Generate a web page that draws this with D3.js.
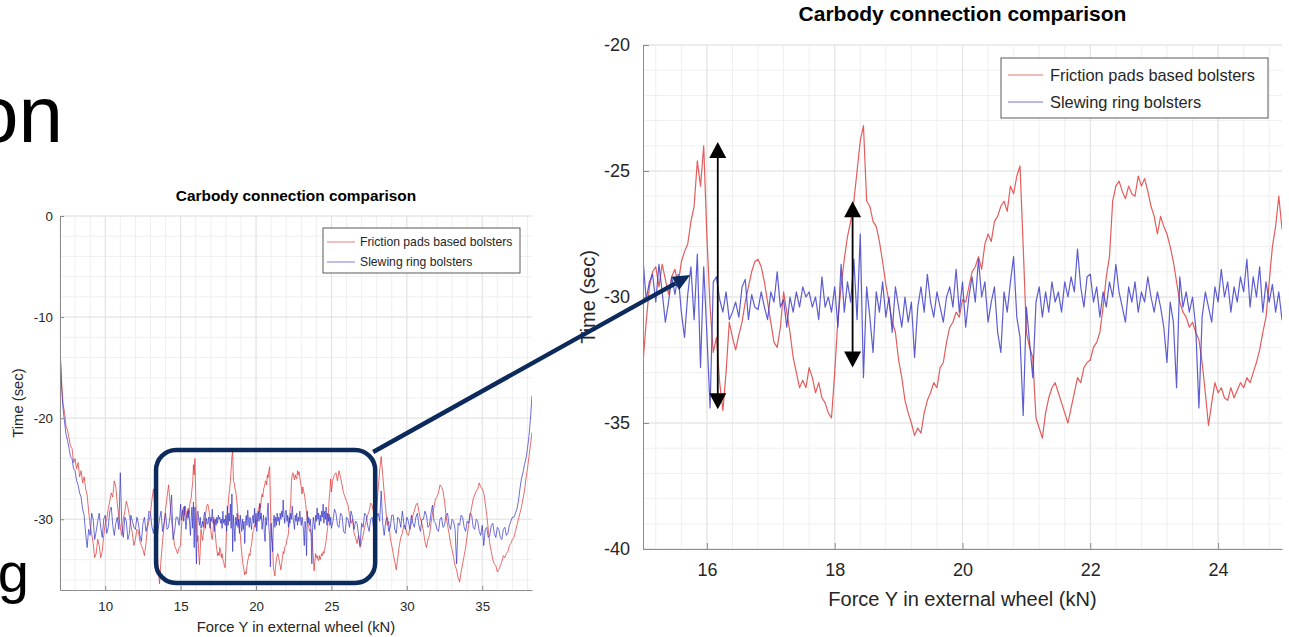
<!DOCTYPE html>
<meta charset="utf-8">

<!-- Load d3.js -->
<script src="https://d3js.org/d3.v7.min.js"></script>

<style>
  body { margin: 0; background: #fff; }
</style>

<div id="slide"></div>

<script>

// ---- data ----------------------------------------------------------------
// force axis is sampled in three pieces: coarser outside the zoomed window, fine inside it
var lowStart = 7.0,   lowStep = 0.1    // 7.0 .. 14.9
var zoomStart = 15.0, zoomStep = 0.05  // 15.00 .. 25.00
var highStart = 25.1, highStep = 0.1   // 25.1 .. 38.3

var seriesNames = ["Friction pads based bolsters", "Slewing ring bolsters"]

var redLow = [
  -13.0, -16.2, -18.6, -19.4, -20.8, -21.2, -22.0, -22.8, -23.0, -24.4,
  -24.0, -25.0, -24.4, -25.8, -25.2, -26.4, -25.8, -27.0, -27.6, -29.2,
  -30.6, -31.4, -32.4, -33.8, -33.4, -32.0, -32.6, -33.8, -33.2, -31.6,
  -30.4, -30.0, -29.0, -28.2, -27.4, -27.8, -26.2, -26.8, -28.4, -29.8,
  -30.8, -31.6, -30.0, -29.2, -28.2, -28.8, -29.6, -30.6, -31.4, -32.6,
  -32.0, -31.0, -31.2, -32.2, -32.6, -33.0, -33.6, -32.4, -30.8, -30.2,
  -29.4, -28.0, -27.0, -29.2, -31.8, -34.6, -36.4, -34.0, -32.2, -30.6,
  -29.0, -27.8, -26.6, -28.4, -30.2, -31.4, -32.6, -33.0, -33.4, -32.8]

var redZoom = [
  -32.6, -31.0, -29.6, -29.0, -28.8, -29.6, -28.7, -29.3, -29.9, -29.2,
  -28.9, -29.5, -28.6, -28.2, -27.9, -27.0, -26.4, -24.6, -25.6, -24.0,
  -27.6, -30.4, -32.2, -31.6, -33.4, -34.5, -33.0, -31.0, -31.6, -32.1,
  -31.5, -31.0, -30.2, -29.6, -29.0, -28.6, -28.5, -28.8, -29.4, -30.2,
  -31.0, -31.8, -32.0, -31.2, -29.8, -30.6, -31.4, -32.4, -33.0, -33.6,
  -33.3, -33.6, -32.8, -33.2, -33.8, -33.4, -34.0, -34.2, -34.6, -34.8,
  -33.0, -30.9, -29.6, -28.5, -27.6, -27.0, -26.2, -25.0, -23.8, -23.2,
  -26.2, -26.4, -27.0, -27.2, -27.8, -28.6, -29.5, -30.2, -31.0, -31.4,
  -32.5, -33.2, -34.1, -34.6, -35.0, -35.5, -35.2, -35.4, -34.6, -34.1,
  -33.8, -33.4, -33.6, -32.8, -32.6, -31.8, -31.2, -31.0, -30.6, -30.8,
  -30.1, -30.2, -29.6, -29.0, -28.8, -28.4, -28.9, -27.9, -27.5, -27.8,
  -27.0, -26.8, -26.4, -26.2, -26.6, -25.6, -25.9, -25.2, -24.8, -28.0,
  -31.4, -32.0, -32.4, -34.8, -35.2, -35.6, -34.6, -34.0, -33.6, -33.4,
  -33.8, -34.2, -34.6, -35.0, -34.4, -33.8, -33.2, -33.4, -32.8, -32.6,
  -32.5, -32.0, -31.8, -31.4, -30.4, -29.2, -28.4, -26.2, -25.6, -25.4,
  -25.8, -26.1, -25.6, -25.9, -26.0, -25.2, -25.6, -25.3, -25.8, -26.4,
  -26.8, -27.5, -26.8, -27.2, -27.5, -28.0, -28.6, -29.4, -30.2, -30.6,
  -30.8, -31.2, -31.0, -31.4, -31.7, -32.6, -33.8, -35.1, -34.2, -33.4,
  -33.8, -33.6, -34.0, -34.1, -33.6, -34.0, -33.7, -33.4, -33.6, -33.2,
  -33.4, -33.0, -32.6, -32.1, -31.4, -30.8, -29.4, -28.0, -27.2, -26.0,
  -27.3]

var redHigh = [
  -26.0, -25.6, -25.4, -26.2, -25.2, -25.8, -26.6, -27.4, -27.8, -28.2,
  -28.6, -29.6, -30.4, -30.0, -31.4, -31.8, -32.4, -31.6, -32.8, -32.2,
  -31.6, -30.8, -30.2, -29.6, -29.2, -28.4, -28.6, -29.4, -29.8, -28.8,
  -27.0, -25.2, -23.8, -25.6, -27.4, -29.0, -30.6, -30.2, -31.8, -32.6,
  -33.4, -34.2, -35.0, -33.8, -32.6, -31.8, -31.4, -30.6, -30.8, -31.4,
  -31.6, -31.0, -30.4, -29.6, -29.2, -28.6, -28.4, -29.2, -30.0, -30.4,
  -31.2, -32.2, -32.8, -32.0, -31.6, -30.4, -29.4, -28.8, -28.0, -27.8,
  -27.4, -26.6, -26.8, -27.2, -28.2, -29.6, -30.6, -31.4, -32.4, -33.0,
  -33.8, -34.6, -35.0, -35.8, -36.2, -35.2, -34.4, -33.6, -32.8, -31.6,
  -30.6, -29.6, -28.8, -28.0, -27.6, -27.2, -27.0, -26.4, -26.8, -27.0,
  -27.4, -28.4, -29.6, -31.0, -32.4, -33.2, -34.0, -34.4, -34.6, -35.2,
  -35.0, -34.6, -34.2, -33.6, -33.8, -33.4, -33.2, -32.6, -32.4, -32.0,
  -31.8, -31.2, -30.6, -30.0, -29.4, -28.8, -28.0, -27.2, -26.0, -25.0,
  -23.8, -22.6, -21.4]

var blueLow = [
  -13.0, -16.8, -19.0, -20.4, -21.6, -22.2, -23.0, -23.8, -24.0, -25.0,
  -25.2, -26.2, -26.6, -27.4, -27.8, -29.0, -29.6, -31.4, -32.8, -31.0,
  -31.6, -29.4, -30.0, -32.0, -31.2, -30.2, -29.4, -30.8, -31.8, -30.0,
  -29.6, -31.4, -30.8, -29.2, -28.8, -30.6, -31.6, -30.4, -29.8, -31.0,
  -25.4, -30.6, -31.8, -29.8, -30.2, -32.0, -31.4, -29.6, -30.2, -30.8,
  -31.0, -29.8, -30.4, -31.6, -32.2, -30.4, -29.8, -31.2, -30.6, -29.2,
  -29.4, -30.8, -31.4, -30.0, -32.6, -31.0, -30.0, -29.2, -31.2, -30.4,
  -29.4, -31.0, -30.8, -29.6, -27.6, -32.0, -31.2, -29.8, -29.8, -30.6]

var blueZoom = [
  -28.5, -30.1, -29.4, -29.1, -30.2, -28.7, -29.8, -31.0, -30.2, -29.2,
  -29.9, -29.1, -30.6, -31.6, -29.9, -28.8, -30.9, -28.3, -32.8, -28.8,
  -31.5, -34.4, -29.4, -29.2, -30.1, -30.6, -29.8, -30.9, -30.6, -30.2,
  -30.8, -29.6, -29.3, -30.9, -29.9, -30.4, -30.5, -29.8, -30.4, -30.9,
  -29.8, -30.2, -29.0, -30.4, -30.1, -31.2, -30.0, -30.6, -29.8, -30.4,
  -29.6, -30.0, -29.8, -30.4, -30.0, -30.9, -29.2, -30.4, -30.0, -30.6,
  -29.6, -31.2, -28.7, -30.6, -29.4, -30.2, -28.5, -30.9, -27.5, -33.2,
  -29.6, -30.8, -32.2, -29.8, -30.6, -29.4, -30.8, -30.0, -31.4, -29.6,
  -30.4, -31.2, -30.0, -31.0, -30.2, -32.4, -30.4, -29.6, -30.6, -29.1,
  -30.2, -30.8, -29.8, -30.4, -31.0, -30.0, -29.6, -30.4, -28.9, -30.6,
  -29.4, -31.2, -30.0, -29.2, -30.2, -28.5, -30.0, -29.4, -31.0, -30.2,
  -29.6, -31.4, -32.2, -29.8, -30.6, -29.4, -28.4, -30.8, -31.6, -34.7,
  -30.4, -31.8, -33.2, -30.2, -29.6, -30.8, -29.8, -30.6, -29.4, -30.2,
  -29.8, -30.6, -29.4, -30.0, -29.2, -29.8, -28.1, -29.6, -30.4, -29.2,
  -29.1, -30.2, -29.6, -30.8, -29.8, -30.4, -29.4, -30.0, -28.7, -29.8,
  -30.4, -31.0, -29.6, -30.2, -29.4, -30.6, -29.8, -30.2, -29.2, -30.0,
  -30.6, -29.8, -30.4, -31.2, -32.6, -30.2, -31.0, -33.6, -29.2, -30.4,
  -29.8, -30.6, -30.0, -31.2, -34.4, -30.8, -29.8, -30.4, -31.0, -29.6,
  -30.2, -28.9, -30.0, -29.4, -30.6, -29.6, -30.2, -29.2, -29.8, -28.5,
  -30.4, -29.2, -30.0, -28.8, -30.6, -29.4, -30.2, -29.5, -30.6, -29.8,
  -30.9]

var blueHigh = [
  -30.2, -29.0, -29.4, -30.6, -30.8, -29.4, -29.6, -31.2, -31.4, -29.8,
  -30.0, -30.8, -29.2, -29.8, -31.0, -30.2, -30.4, -31.6, -32.6, -30.4,
  -30.8, -29.4, -29.6, -30.6, -31.2, -30.0, -29.8, -31.0, -30.6, -29.8,
  -29.4, -30.2, -27.2, -30.4, -31.6, -30.2, -29.8, -31.2, -30.8, -29.6,
  -29.6, -31.0, -31.4, -29.8, -30.0, -30.8, -29.2, -30.4, -31.0, -29.8,
  -30.2, -31.0, -29.6, -30.4, -30.8, -29.8, -29.4, -30.6, -31.2, -30.0,
  -30.0, -29.2, -29.6, -30.8, -30.6, -29.4, -28.6, -30.2, -30.4, -31.0,
  -31.2, -30.0, -29.8, -30.8, -30.6, -29.6, -29.4, -30.6, -31.0, -30.0,
  -30.2, -31.0, -34.4, -30.4, -30.6, -29.6, -29.8, -30.8, -31.2, -30.2,
  -30.4, -29.4, -29.6, -30.8, -31.0, -30.0, -30.2, -31.2, -31.6, -30.6,
  -32.6, -31.0, -30.8, -31.8, -31.6, -30.6, -30.4, -31.4, -31.8, -30.8,
  -31.0, -31.8, -32.0, -31.0, -30.8, -31.6, -31.4, -30.6, -30.2, -29.8,
  -29.8, -29.4, -29.0, -28.2, -27.0, -26.0, -25.4, -24.6, -24.0, -23.0,
  -21.8, -20.0, -17.8]

// tick labels
var leftXTicks = [10, 15, 20, 25, 30, 35]
var leftYTicks = [0, -10, -20, -30]
var rightXTicks = [16, 18, 20, 22, 24]
var rightYTicks = [-20, -25, -30, -35, -40]

// annotations (in data units of the chart they sit on)
var zoomBox = {x0: 13.37, x1: 27.9, y0: -23.15, y1: -36.3}   // left chart
var connectorEnd = {x: 15.74, y: -29.13}                     // right chart
var rangeArrowX = [16.17, 18.28]
var rangeArrowTop = [-23.85, -26.2]
var rangeArrowBottom = [-34.45, -32.8]

// ---- build the two series ---------------------------------------------------
function buildSeries(low, zoom, high) {
  var pts = []
  low.forEach(function(v, i) { pts.push({x: lowStart + i * lowStep, y: v}) })
  zoom.forEach(function(v, i) { pts.push({x: zoomStart + i * zoomStep, y: v}) })
  high.forEach(function(v, i) { pts.push({x: highStart + i * highStep, y: v}) })
  return pts
}
var series = [
  {name: seriesNames[0], color: "#dc3434", values: buildSeries(redLow, redZoom, redHigh)},
  {name: seriesNames[1], color: "#3535c6", values: buildSeries(blueLow, blueZoom, blueHigh)}
]

var fontFamily = '"Liberation Sans", Arial, Helvetica, sans-serif'
var navy = "#0d2a5c"

var svg = d3.select("#slide")
  .append("svg")
  .attr("width", 1289)
  .attr("height", 637)
  .style("font-family", fontFamily)

svg.append("rect").attr("width", 1289).attr("height", 637).attr("fill", "#fff")

// pieces of slide text that stick out on the left
svg.append("text")
  .attr("x", 63).attr("y", 142)
  .attr("text-anchor", "end")
  .attr("font-size", 80)
  .attr("fill", "#000")
  .text("on")
svg.append("text")
  .attr("x", 29).attr("y", 592)
  .attr("text-anchor", "end")
  .attr("font-size", 56)
  .attr("fill", "#000")
  .text("g")

// ---- one MATLAB style line chart --------------------------------------------
function drawChart(cfg) {
  var g = svg.append("g")
    .attr("transform", "translate(" + cfg.left + "," + cfg.top + ")")

  var x = d3.scaleLinear().domain(cfg.xDomain).range([0, cfg.width])
  var y = d3.scaleLinear().domain(cfg.yDomain).range([cfg.height, 0])

  // minor grid
  var xMinor = d3.range(Math.ceil(cfg.xDomain[0] / cfg.xMinor - 1e-9) * cfg.xMinor, cfg.xDomain[1] + 1e-9, cfg.xMinor)
  var yMinor = d3.range(Math.ceil(cfg.yDomain[0] / cfg.yMinor - 1e-9) * cfg.yMinor, cfg.yDomain[1] + 1e-9, cfg.yMinor)
  g.append("g").selectAll("line")
    .data(xMinor).enter().append("line")
    .attr("x1", function(d) { return x(d) }).attr("x2", function(d) { return x(d) })
    .attr("y1", 0).attr("y2", cfg.height)
    .attr("stroke", "#efefef").attr("stroke-width", 1)
  g.append("g").selectAll("line")
    .data(yMinor).enter().append("line")
    .attr("y1", function(d) { return y(d) }).attr("y2", function(d) { return y(d) })
    .attr("x1", 0).attr("x2", cfg.width)
    .attr("stroke", "#efefef").attr("stroke-width", 1)

  // major grid
  g.append("g").selectAll("line")
    .data(cfg.xTicks).enter().append("line")
    .attr("x1", function(d) { return x(d) }).attr("x2", function(d) { return x(d) })
    .attr("y1", 0).attr("y2", cfg.height)
    .attr("stroke", "#e2e2e2").attr("stroke-width", 1)
  g.append("g").selectAll("line")
    .data(cfg.yTicks).enter().append("line")
    .attr("y1", function(d) { return y(d) }).attr("y2", function(d) { return y(d) })
    .attr("x1", 0).attr("x2", cfg.width)
    .attr("stroke", "#e2e2e2").attr("stroke-width", 1)

  // series, clipped to the axes box
  var clipId = "clip-" + cfg.id
  g.append("clipPath").attr("id", clipId)
    .append("rect").attr("width", cfg.width).attr("height", cfg.height)

  var line = d3.line()
    .x(function(d) { return x(d.x) })
    .y(function(d) { return y(d.y) })

  g.append("g").attr("clip-path", "url(#" + clipId + ")")
    .selectAll("path")
    .data(series).enter().append("path")
    .attr("d", function(d) { return line(d.values) })
    .attr("fill", "none")
    .attr("stroke", function(d) { return d.color })
    .attr("stroke-width", cfg.lineWidth)
    .attr("stroke-opacity", 0.8)
    .attr("stroke-linejoin", "round")

  // axes
  var fmt = function(d) { return String(d) }
  var xAxis = g.append("g")
    .attr("transform", "translate(0," + cfg.height + ")")
    .call(d3.axisBottom(x).tickValues(cfg.xTicks).tickFormat(fmt)
      .tickSizeInner(-cfg.tick).tickSizeOuter(0).tickPadding(cfg.xPad))
  var yAxis = g.append("g")
    .call(d3.axisLeft(y).tickValues(cfg.yTicks).tickFormat(fmt)
      .tickSizeInner(-cfg.tick).tickSizeOuter(0).tickPadding(cfg.yPad))
  ;[xAxis, yAxis].forEach(function(a) {
    a.attr("font-family", fontFamily).attr("font-size", cfg.tickFont)
    a.select(".domain").attr("stroke", "#8c8c8c")
    a.selectAll(".tick line").attr("stroke", "#8c8c8c")
    a.selectAll(".tick text").attr("fill", "#262626")
  })

  // title and labels
  g.append("text")
    .attr("x", cfg.width / 2).attr("y", cfg.titleY)
    .attr("text-anchor", "middle")
    .attr("font-size", cfg.titleFont).attr("font-weight", "bold")
    .attr("fill", "#000")
    .text("Carbody connection comparison")
  g.append("text")
    .attr("x", cfg.width / 2).attr("y", cfg.height + cfg.xLabelY)
    .attr("text-anchor", "middle")
    .attr("font-size", cfg.labelFont).attr("fill", "#262626")
    .text("Force Y in external wheel (kN)")
  g.append("text")
    .attr("transform", "translate(" + cfg.yLabelX + "," + (cfg.height / 2) + ") rotate(-90)")
    .attr("text-anchor", "middle")
    .attr("dominant-baseline", "central")
    .attr("font-size", cfg.labelFont).attr("fill", "#262626")
    .text("Time (sec)")

  // legend in the upper right corner
  var lg = cfg.legend
  var legend = g.append("g")
    .attr("transform", "translate(" + (cfg.width - lg.dx - lg.w) + "," + lg.dy + ")")
  legend.append("rect")
    .attr("width", lg.w).attr("height", lg.h)
    .attr("fill", "#fff").attr("stroke", "#5a5a5a").attr("stroke-width", 1)
  var item = legend.selectAll(".legend")
    .data(series).enter().append("g")
    .attr("class", "legend")
    .attr("transform", function(d, i) { return "translate(0," + (lg.rowOff + i * lg.rowGap) + ")" })
  item.append("line")
    .attr("x1", lg.lineOff).attr("x2", lg.lineOff + lg.lineLen)
    .attr("stroke", function(d) { return d.color })
    .attr("stroke-opacity", 0.7)
    .attr("stroke-width", cfg.lineWidth)
  item.append("text")
    .attr("x", lg.textOff)
    .attr("dominant-baseline", "central")
    .attr("font-size", lg.font).attr("fill", "#262626")
    .text(function(d) { return d.name })

  return {x: x, y: y, cfg: cfg}
}

var overview = drawChart({
  id: "overview",
  left: 60, top: 216, width: 472, height: 374,
  xDomain: [7, 38.3], yDomain: [-37, 0],
  xTicks: leftXTicks, yTicks: leftYTicks,
  xMinor: 1, yMinor: 2,
  tickFont: 13.3, labelFont: 14.8, titleFont: 15.4,
  titleY: -15, xLabelY: 42, yLabelX: -42,
  xPad: 12, yPad: 7, tick: 4,
  lineWidth: 0.9,
  legend: {w: 197, h: 45, dx: 12, dy: 12, font: 12.2, rowOff: 14, rowGap: 20, lineOff: 4, lineLen: 28, textOff: 37}
})

var detail = drawChart({
  id: "detail",
  left: 643, top: 45, width: 639, height: 504,
  xDomain: [15, 25], yDomain: [-40, -20],
  xTicks: rightXTicks, yTicks: rightYTicks,
  xMinor: 0.4, yMinor: 1,
  tickFont: 18, labelFont: 20, titleFont: 21,
  titleY: -24, xLabelY: 57, yLabelX: -55,
  xPad: 14, yPad: 13, tick: 6,
  lineWidth: 1.2,
  legend: {w: 267, h: 60, dx: 14, dy: 13, font: 16.4, rowOff: 17, rowGap: 27, lineOff: 7, lineLen: 35, textOff: 49}
})

// ---- annotations ------------------------------------------------------------
function px(chart, v) { return chart.cfg.left + chart.x(v) }
function py(chart, v) { return chart.cfg.top + chart.y(v) }

// highlighted window on the overview
var bx0 = px(overview, zoomBox.x0), bx1 = px(overview, zoomBox.x1)
var by0 = py(overview, zoomBox.y0), by1 = py(overview, zoomBox.y1)
svg.append("rect")
  .attr("x", bx0).attr("y", by0)
  .attr("width", bx1 - bx0).attr("height", by1 - by0)
  .attr("rx", 20).attr("ry", 20)
  .attr("fill", "none").attr("stroke", navy).attr("stroke-width", 4.5)

// connector arrow from the window to the detail chart
var sx = bx1 - 2, sy = by0 + 2
var ex = px(detail, connectorEnd.x), ey = py(detail, connectorEnd.y)
var ang = Math.atan2(ey - sy, ex - sx)
var headLen = 17, headHalf = 7.5
var baseX = ex - headLen * Math.cos(ang), baseY = ey - headLen * Math.sin(ang)
svg.append("line")
  .attr("x1", sx).attr("y1", sy).attr("x2", baseX).attr("y2", baseY)
  .attr("stroke", navy).attr("stroke-width", 4.5)
svg.append("path")
  .attr("d", "M" + ex + "," + ey +
    "L" + (baseX + headHalf * Math.sin(ang)) + "," + (baseY - headHalf * Math.cos(ang)) +
    "L" + (baseX - headHalf * Math.sin(ang)) + "," + (baseY + headHalf * Math.cos(ang)) + "Z")
  .attr("fill", navy)

// double headed range arrows on the detail chart
rangeArrowX.forEach(function(v, i) {
  var ax = px(detail, v)
  var top = py(detail, rangeArrowTop[i]), bot = py(detail, rangeArrowBottom[i])
  var h = 16, w = 8.5
  var a = svg.append("g")
  a.append("line")
    .attr("x1", ax).attr("x2", ax).attr("y1", top + h - 1).attr("y2", bot - h + 1)
    .attr("stroke", "#000").attr("stroke-width", 1.8)
  a.append("path")
    .attr("d", "M" + ax + "," + top + "L" + (ax + w) + "," + (top + h) + "L" + (ax - w) + "," + (top + h) + "Z")
    .attr("fill", "#000")
  a.append("path")
    .attr("d", "M" + ax + "," + bot + "L" + (ax + w) + "," + (bot - h) + "L" + (ax - w) + "," + (bot - h) + "Z")
    .attr("fill", "#000")
})

</script>
